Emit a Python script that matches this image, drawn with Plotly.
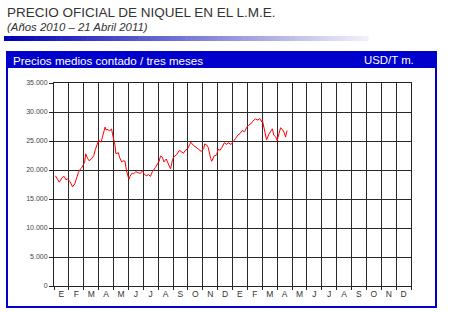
import calendar
import plotly.graph_objects as go

# ---- data ----
dates = [
    "2010-01-04", "2010-01-08", "2010-01-12", "2010-01-18", "2010-01-22", "2010-01-26", "2010-01-29",
    "2010-02-03", "2010-02-08", "2010-02-12", "2010-02-16", "2010-02-19", "2010-02-23", "2010-02-26",
    "2010-03-03", "2010-03-05", "2010-03-09", "2010-03-12", "2010-03-17", "2010-03-22", "2010-03-25", "2010-03-30",
    "2010-04-01", "2010-04-06", "2010-04-09", "2010-04-14", "2010-04-16", "2010-04-20", "2010-04-23", "2010-04-27", "2010-04-30",
    "2010-05-04", "2010-05-06", "2010-05-11", "2010-05-14", "2010-05-18", "2010-05-21", "2010-05-25", "2010-05-28",
    "2010-06-02", "2010-06-04", "2010-06-09", "2010-06-11", "2010-06-16", "2010-06-22", "2010-06-25", "2010-06-30",
    "2010-07-02", "2010-07-07", "2010-07-12", "2010-07-16", "2010-07-20", "2010-07-26", "2010-07-30",
    "2010-08-03", "2010-08-06", "2010-08-10", "2010-08-13", "2010-08-18", "2010-08-24", "2010-08-27", "2010-08-31",
    "2010-09-03", "2010-09-08", "2010-09-14", "2010-09-17", "2010-09-22", "2010-09-27", "2010-09-30",
    "2010-10-05", "2010-10-07", "2010-10-12", "2010-10-15", "2010-10-20", "2010-10-25", "2010-10-29",
    "2010-11-03", "2010-11-05", "2010-11-09", "2010-11-12", "2010-11-17", "2010-11-19", "2010-11-24", "2010-11-29",
    "2010-12-02", "2010-12-06", "2010-12-10", "2010-12-15", "2010-12-20", "2010-12-23", "2010-12-29",
    "2011-01-04", "2011-01-07", "2011-01-12", "2011-01-17", "2011-01-21", "2011-01-26", "2011-01-31",
    "2011-02-03", "2011-02-08", "2011-02-11", "2011-02-16", "2011-02-21", "2011-02-24", "2011-02-28",
    "2011-03-01", "2011-03-04", "2011-03-08", "2011-03-10", "2011-03-15", "2011-03-18", "2011-03-22", "2011-03-25", "2011-03-29",
    "2011-04-01", "2011-04-05", "2011-04-08", "2011-04-12", "2011-04-15", "2011-04-18", "2011-04-21",
]
prices = [
    19000, 18300, 17900, 18700, 18900, 18300, 18500,
    18000, 17100, 17600, 18700, 19600, 20200, 20500,
    21400, 22800, 22000, 21600, 21900, 22500, 23500, 24600,
    25100, 24800, 25800, 27400, 26900, 27000, 26700, 27100, 25800,
    24300, 22800, 23000, 22100, 21400, 21600, 21500, 19900,
    18400, 18900, 19500, 19300, 19700, 19500, 19400, 19900,
    19400, 19000, 19200, 18900, 19700, 20400, 20900,
    21500, 22400, 22200, 21400, 21900, 20700, 20200, 21800,
    22300, 22600, 23400, 23200, 22900, 23500, 23600,
    24400, 24800, 24300, 24100, 23700, 23400, 23200,
    23700, 24500, 24300, 23900, 22000, 21500, 22400, 22600,
    23600, 23400, 23900, 24700, 24400, 24700, 24400,
    25200, 25400, 26000, 26300, 26800, 26600, 27400,
    27700, 28000, 28400, 28800, 28600, 28900, 28300,
    28700, 27500, 26000, 25200, 26200, 26600, 27100, 26000, 25700,
    25100, 26300, 27300, 26900, 26500, 25700, 26800,
]
month_labels = ["E", "F", "M", "A", "M", "J", "J", "A", "S", "O", "N", "D"] * 2
y_ticks = [0, 5000, 10000, 15000, 20000, 25000, 30000, 35000]
y_tick_text = ["0", "5.000", "10.000", "15.000", "20.000", "25.000", "30.000", "35.000"]


def month_pos(d):
    y, m, dd = (int(p) for p in d.split("-"))
    return (y - 2010) * 12 + (m - 1) + (dd - 1) / calendar.monthrange(y, m)[1]


xs = [month_pos(d) for d in dates]

# ---- layout geometry (pixels) ----
W, H = 450, 312
L, R, T, B = 54, 39, 83, 26
PW, PH = W - L - R, H - T - B


def px(x):
    return (x - L) / PW


def py(y):
    return 1 - (y - T) / PH


fig = go.Figure()
fig.add_trace(go.Scatter(x=xs, y=prices, mode="lines",
                         line=dict(color="#ff0000", width=1), hoverinfo="skip"))

shapes = []
# gradient bar under title
n = 70
x0, x1 = 4, 368
for i in range(n):
    t = i / (n - 1)
    r = int(0x00 + t * (0xf0 - 0x00))
    g = int(0x00 + t * (0xf0 - 0x00))
    b = int(0xb4 + t * (0xfa - 0xb4))
    xa = x0 + (x1 - x0) * i / n
    xb = x0 + (x1 - x0) * (i + 1) / n + 0.6
    shapes.append(dict(type="rect", xref="paper", yref="paper",
                       x0=px(xa), x1=px(xb), y0=py(41), y1=py(36),
                       fillcolor=f"rgb({r},{g},{b})", line=dict(width=0), layer="below"))
# blue frame
shapes.append(dict(type="rect", xref="paper", yref="paper",
                   x0=px(7), x1=px(436), y0=py(307), y1=py(52),
                   line=dict(color="#0000cc", width=2), fillcolor="rgba(0,0,0,0)", layer="below"))
# header bar
shapes.append(dict(type="rect", xref="paper", yref="paper",
                   x0=px(7), x1=px(436), y0=py(68), y1=py(52),
                   line=dict(width=0), fillcolor="#0000cc", layer="below"))

annotations = [
    dict(text="PRECIO OFICIAL DE NIQUEL EN EL L.M.E.", x=px(5), y=py(12.5), xref="paper", yref="paper",
         xanchor="left", yanchor="middle", showarrow=False,
         font=dict(family="Liberation Sans, Arial", size=13.5, color="#333333")),
    dict(text="<i>(Años 2010 – 21 Abril 2011)</i>", x=px(5), y=py(27.5), xref="paper", yref="paper",
         xanchor="left", yanchor="middle", showarrow=False,
         font=dict(family="Liberation Sans, Arial", size=11.4, color="#333333")),
    dict(text="Precios medios contado / tres meses", x=px(11), y=py(60), xref="paper", yref="paper",
         xanchor="left", yanchor="middle", showarrow=False,
         font=dict(family="Liberation Sans, Arial", size=11.6, color="#ffffff")),
    dict(text="USD/T m.", x=px(416), y=py(60), xref="paper", yref="paper",
         xanchor="right", yanchor="middle", showarrow=False,
         font=dict(family="Liberation Sans, Arial", size=11.4, color="#ffffff")),
]

fig.update_layout(
    width=W, height=H,
    margin=dict(l=L, r=R, t=T, b=B, pad=0),
    paper_bgcolor="white", plot_bgcolor="white",
    showlegend=False,
    shapes=shapes, annotations=annotations,
    font=dict(family="Liberation Sans, Arial", color="#333333"),
    xaxis=dict(
        range=[0, 24], fixedrange=True,
        tickvals=[i + 0.5 for i in range(24)], ticktext=month_labels,
        ticks="", showgrid=False, zeroline=False,
        showline=True, linecolor="#222222", linewidth=1, mirror=True,
        tickfont=dict(size=8.5, color="#333333"),
        minor=dict(tickvals=list(range(25)), showgrid=True, gridcolor="#2a2a2a", gridwidth=1,
                   ticks="outside", ticklen=3, tickcolor="#222222"),
    ),
    yaxis=dict(
        range=[0, 35000], fixedrange=True,
        tickvals=y_ticks, ticktext=y_tick_text,
        ticks="outside", ticklen=4, tickcolor="#222222",
        showgrid=True, gridcolor="#2a2a2a", gridwidth=1, zeroline=False,
        showline=True, linecolor="#222222", linewidth=1, mirror=True,
        tickfont=dict(size=7, color="#444444"),
    ),
)

fig.write_html("out.html")
